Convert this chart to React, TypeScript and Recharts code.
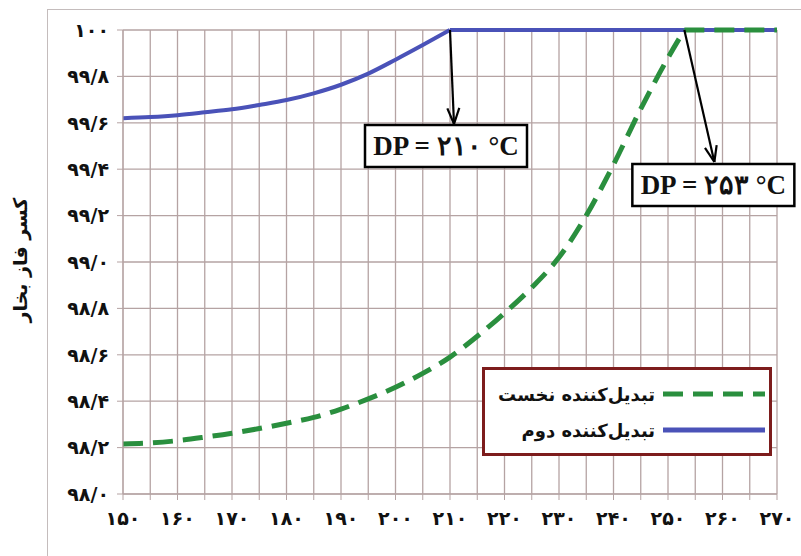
import { LineChart, Line, XAxis, YAxis, CartesianGrid, Legend, ReferenceDot } from "recharts";

// temperature (°C) and vapour fraction (%)
const temperatures = [150, 155, 160, 165, 170, 175, 180, 185, 190, 195, 200, 205, 210, 215, 220, 225, 230, 235, 240, 245, 250, 253, 255, 260, 265, 270];
const firstConverter = [98.215, 98.22, 98.23, 98.245, 98.262, 98.282, 98.305, 98.33, 98.366, 98.41, 98.46, 98.52, 98.59, 98.68, 98.78, 98.89, 99.02, 99.2, 99.42, 99.66, 99.88, 100, 100, 100, 100, 100];
const secondConverter = [99.62, 99.625, 99.633, 99.645, 99.658, 99.677, 99.698, 99.727, 99.764, 99.812, 99.872, 99.935, 100, 100, 100, 100, 100, 100, 100, 100, 100, 100, 100, 100, 100, 100];

const xTicks = [150, 155, 160, 165, 170, 175, 180, 185, 190, 195, 200, 205, 210, 215, 220, 225, 230, 235, 240, 245, 250, 255, 260, 265, 270];
const yTicks = [98, 98.2, 98.4, 98.6, 98.8, 99, 99.2, 99.4, 99.6, 99.8, 100];

// dew points of the two converters (first: 253, second: 210)
const dewPoints = [
  { t: 210, label: "۲۱۰", arrow: [4, 94], box: [-4, 116] },
  { t: 253, label: "۲۵۳", arrow: [30, 132], box: [29, 155] },
];
const DP_SECOND = 210;
const DP_FIRST = 253;

// each series is split at its dew point so the curve meets the flat line with a corner
const data = temperatures.map((t, i) => ({
  t,
  firstCurve: t <= DP_FIRST ? firstConverter[i] : null,
  firstFlat: t >= DP_FIRST ? firstConverter[i] : null,
  secondCurve: t <= DP_SECOND ? secondConverter[i] : null,
  secondFlat: t >= DP_SECOND ? secondConverter[i] : null,
}));

const fa = (s: string) => s.replace(/\d/g, (d) => "۰۱۲۳۴۵۶۷۸۹"[+d]);
const persianFont = "'DejaVu Sans', sans-serif";
const gridColor = "#b5a3a3";

const BLUE = "#4a52b8";
const GREEN = "#2a8f3e";
const DASH = "20 10";

const DewPointMark = ({ cx, cy, label, arrow, box }: any) => {
  const x2 = cx + arrow[0];
  const y2 = cy + arrow[1];
  const ang = Math.atan2(y2 - cy, x2 - cx);
  const head = 17;
  const spread = 0.36;
  const bx = cx + box[0];
  const by = cy + box[1];
  return (
    <g>
      <line x1={cx} y1={cy} x2={x2} y2={y2} stroke="#000" strokeWidth={2.2} />
      <line x1={x2} y1={y2} x2={x2 - head * Math.cos(ang - spread)} y2={y2 - head * Math.sin(ang - spread)} stroke="#000" strokeWidth={2.2} />
      <line x1={x2} y1={y2} x2={x2 - head * Math.cos(ang + spread)} y2={y2 - head * Math.sin(ang + spread)} stroke="#000" strokeWidth={2.2} />
      <rect x={bx - 81} y={by - 21} width={162} height={42} fill="#fff" stroke="#000" strokeWidth={2.5} />
      <text x={bx} y={by + 9} textAnchor="middle" fontFamily="'Liberation Serif', serif" fontWeight="bold" fontSize={27} fill="#111">
        {"DP = " + label + " °C"}
      </text>
    </g>
  );
};

const LegendBox = ({ payload }: any) => (
  <div
    style={{
      border: "3px solid #7d1c1c",
      background: "#fff",
      width: 290,
      height: 89,
      boxSizing: "border-box",
      paddingTop: 6,
      fontFamily: persianFont,
      fontWeight: "bold",
      fontSize: 18,
    }}
  >
    {(payload || [])
      .filter((p: any) => p.type !== "none" && String(p.dataKey).endsWith("Curve"))
      .reverse()
      .map((p: any) => (
        <div key={p.value} style={{ display: "flex", justifyContent: "flex-end", alignItems: "center", height: 36, paddingRight: 4 }}>
          <span style={{ direction: "rtl", color: "#111", marginRight: 8 }}>{p.value}</span>
          <svg width={102} height={10}>
            <line x1={0} y1={5} x2={102} y2={5} stroke={p.color} strokeWidth={5} strokeDasharray={p.dataKey === "firstCurve" ? DASH : undefined} />
          </svg>
        </div>
      ))}
  </div>
);

export default function App() {
  return (
    <div style={{ position: "absolute", left: 0, top: 0, width: 801, height: 556, background: "#fff" }}>
      <div style={{ position: "absolute", left: 47, top: 9, right: 0, bottom: 0, borderLeft: "1.5px solid #c4bcbc", borderTop: "1.5px solid #c4bcbc" }} />
      <LineChart width={801} height={556} data={data} margin={{ top: 30, right: 24, left: 23, bottom: 32 }}>
        <CartesianGrid stroke={gridColor} strokeWidth={1.3} />
        <XAxis
          dataKey="t"
          type="number"
          domain={[150, 270]}
          ticks={xTicks}
          interval={0}
          height={30}
          tickSize={6}
          tickMargin={12}
          stroke={gridColor}
          tick={{ fill: "#111", fontFamily: persianFont, fontWeight: "bold", fontSize: 19 }}
          tickFormatter={(v: number) => (v % 10 === 0 ? fa(String(v)) : "")}
        />
        <YAxis
          type="number"
          domain={[98, 100]}
          ticks={yTicks}
          interval={0}
          width={100}
          tickSize={6}
          tickMargin={8}
          stroke={gridColor}
          tick={{ fill: "#111", fontFamily: persianFont, fontWeight: "bold", fontSize: 19 }}
          tickFormatter={(v: number) => (v >= 100 ? fa("100") : fa(v.toFixed(1)).replace(".", "/"))}
          label={{
            content: () => (
              <text x={21} y={260} transform="rotate(-90, 21, 260)" textAnchor="middle" dominantBaseline="middle" fontFamily={persianFont} fontWeight="bold" fontSize={19} fill="#111">
                کسر فاز بخار
              </text>
            ),
          }}
        />
        <Legend
          layout="horizontal"
          verticalAlign="middle"
          align="center"
          content={<LegendBox />}
          wrapperStyle={{ left: 482, top: 367, width: 290, height: 89 }}
        />
        <Line dataKey="secondCurve" name="تبدیل‌کننده دوم" type="monotone" stroke={BLUE} strokeWidth={4} dot={false} isAnimationActive={false} />
        <Line dataKey="secondFlat" legendType="none" type="linear" stroke={BLUE} strokeWidth={4} dot={false} isAnimationActive={false} />
        <Line dataKey="firstCurve" name="تبدیل‌کننده نخست" type="monotone" stroke={GREEN} strokeWidth={5} strokeDasharray={DASH} dot={false} isAnimationActive={false} />
        <Line dataKey="firstFlat" legendType="none" type="linear" stroke={GREEN} strokeWidth={5} strokeDasharray={DASH} dot={false} isAnimationActive={false} />
        {dewPoints.map((d) => (
          <ReferenceDot
            key={d.t}
            x={d.t}
            y={100}
            ifOverflow="visible"
            shape={(props: any) => <DewPointMark {...props} label={d.label} arrow={d.arrow} box={d.box} />}
          />
        ))}
      </LineChart>
    </div>
  );
}
